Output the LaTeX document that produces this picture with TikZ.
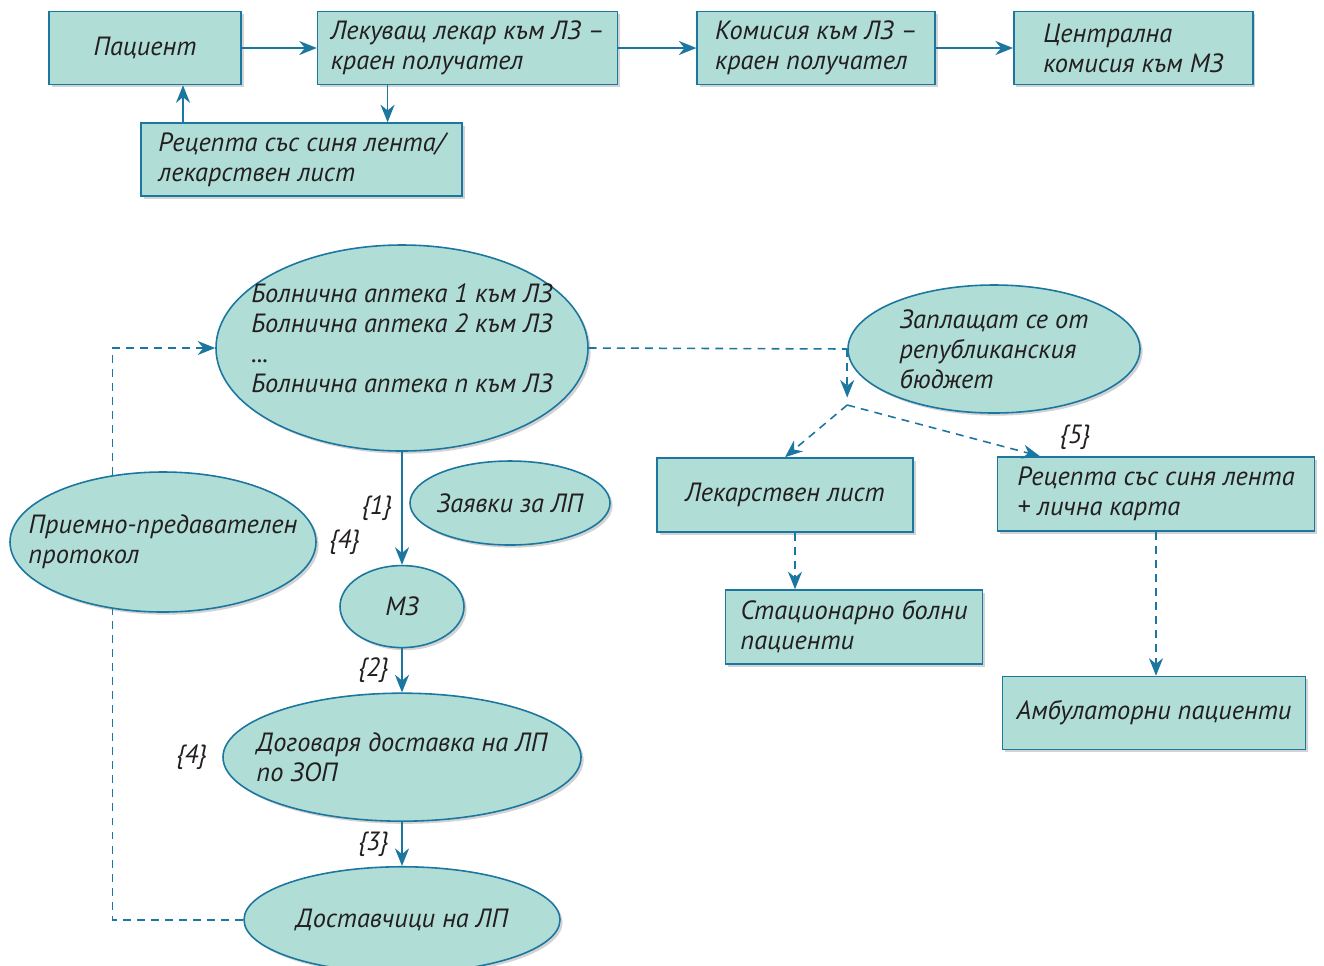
\documentclass[tikz,border=0pt]{standalone}
\usepackage{fontspec}
\setmainfont{PT Sans}
\usepackage{tikz}
\usetikzlibrary{arrows.meta,positioning,shapes.geometric,shadows}
\definecolor{boxfill}{RGB}{176,221,214}
\definecolor{boxline}{RGB}{27,118,160}
\definecolor{inktext}{RGB}{35,31,32}

\begin{document}
\begin{tikzpicture}[
    txt/.style={font=\fontsize{15}{17}\selectfont\itshape,text=inktext},
    box/.style={txt,draw=boxline,fill=boxfill,line width=0.9pt,rectangle,align=left,minimum height=1.46cm,
      drop shadow={shadow xshift=1.5pt,shadow yshift=-1.5pt,opacity=0.35}},
    oval/.style={txt,draw=boxline,fill=boxfill,line width=0.9pt,ellipse,align=left,inner xsep=-6mm,inner ysep=-2mm,
      drop shadow={shadow xshift=1.5pt,shadow yshift=-1.5pt,opacity=0.35}},
    lbl/.style={txt,inner sep=1pt},
    flow/.style={draw=boxline,line width=0.9pt,-{Stealth[length=10pt,width=8pt]}},
    dline/.style={draw=boxline,line width=0.9pt,dash pattern=on 4.5pt off 3.5pt},
    dflow/.style={flow,dash pattern=on 4.5pt off 3.5pt}
]
\useasboundingbox (0,0) rectangle (26.48,-19.3);
% top row
\node[box,minimum width=3.84cm] (pat) at (2.9,-0.96) {Пациент};
\node[box,right=1.5cm of pat,minimum width=6cm] (lek) {Лекуващ лекар към ЛЗ –\\краен получател};
\node[box,right=1.56cm of lek,minimum width=4.76cm] (kom) {Комисия към ЛЗ –\\краен получател};
\node[box,right=1.54cm of kom,minimum width=4.78cm] (cen) {Централна\\комисия към МЗ};
\node[box,below right=0.74cm and 1.84cm of pat.south west,anchor=north west,minimum width=6.42cm] (rec) {Рецепта със синя лента/\\лекарствен лист};
\draw[flow] (pat) -- (lek);
\draw[flow] (lek) -- (kom);
\draw[flow] (kom) -- (cen);
\draw[flow] ([xshift=-1.6cm]lek.south) -- ([xshift=-1.6cm]lek.south |- rec.north);
\draw[flow] ([xshift=0.76cm]pat.south |- rec.north) -- ([xshift=0.76cm]pat.south);
% hospital flow
\node[oval,minimum width=7.44cm,minimum height=4.12cm] (boln) at (8.04,-6.96) {Болнична аптека 1 към ЛЗ\\Болнична аптека 2 към ЛЗ\\...\\Болнична аптека n към ЛЗ\\[-6pt]};
\node[oval,below=2.26cm of boln,minimum width=2.48cm,minimum height=1.64cm] (mz) {МЗ};
\node[oval,below=0.88cm of mz,minimum width=7.16cm,minimum height=2.56cm] (dog) {Договаря доставка на ЛП\\по ЗОП};
\node[oval,below=0.88cm of dog,minimum width=6.32cm,minimum height=2.12cm] (dost) {Доставчици на ЛП};
\node[oval,minimum width=4cm,minimum height=1.68cm] (zay) at (10.2,-10.06) {Заявки за ЛП};
\node[oval,minimum width=6.12cm,minimum height=2.8cm] (priem) at (3.26,-10.84) {Приемно-предавателен\\протокол};
\node[oval,minimum width=5.84cm,minimum height=2.56cm] (zapl) at (19.88,-6.98) {Заплащат се от\\републиканския\\бюджет};
\draw[flow] (boln) -- node[lbl,left=4pt]{\{1\}} (mz);
\draw[flow] (mz) -- node[lbl,left=6pt]{\{2\}} (dog);
\draw[flow] (dog) -- node[lbl,left=6pt]{\{3\}} (dost);
\node[lbl,right=0.2cm of priem.east] (n4a) {\{4\}};
\node[lbl,left=0.26cm of dog] (n4b) {\{4\}};
\draw[dflow] (priem.127) |- (boln.west);
\draw[dline] (dost.west) -| (priem.233);
% payment branch
\node[box,minimum width=5.12cm,minimum height=1.48cm] (leklist) at (15.7,-9.9) {Лекарствен лист};
\node[box,minimum width=6.34cm,minimum height=1.48cm] (recb) at (23.12,-9.88) {Рецепта със синя лента\\+ лична карта};
\node[box,minimum width=5.14cm,minimum height=1.48cm] (stac) at (17.08,-12.54) {Стационарно болни\\пациенти};
\node[box,minimum width=6.06cm] (amb) at (23.08,-14.26) {Амбулаторни пациенти};
\coordinate[below=1.12cm of zapl.west] (split);
\draw[dline] (boln.east) -- (zapl.west);
\draw[dflow,shorten >=1.5mm] (zapl.west) -- (split);
\draw[dflow] (split) -- (leklist.north);
\draw[dflow] (split) -- ([xshift=-2.32cm]recb.north);
\node[lbl] (n5) at ([xshift=-1.62cm,yshift=0.38cm]recb.north) {\{5\}};
\draw[dflow] ([xshift=0.2cm]leklist.south) -- ([xshift=0.2cm]leklist.south |- stac.north);
\draw[dflow] (recb.south) -- (recb.south |- amb.north);
\end{tikzpicture}
\end{document}
